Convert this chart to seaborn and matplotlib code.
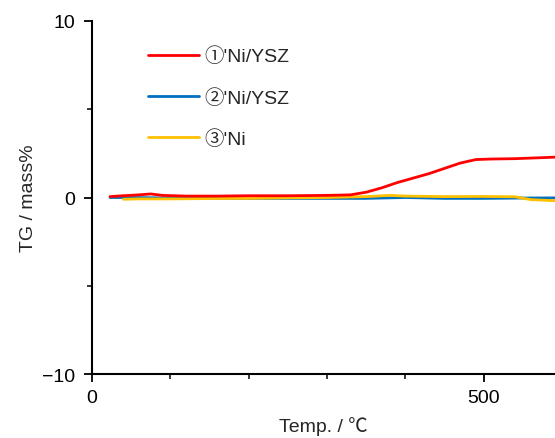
import numpy as np
import pandas as pd
import matplotlib
matplotlib.use("Agg")
import matplotlib.pyplot as plt
import seaborn as sns
from matplotlib.ticker import MultipleLocator

# TG curves (temperature in °C, mass change in mass%)
temp_red = [23, 40, 60, 75, 90, 120, 160, 200, 250, 300, 330, 350, 370, 390, 410, 430, 450, 470, 490, 510, 540, 570, 600]
tg_red = [0.05, 0.1, 0.15, 0.2, 0.12, 0.08, 0.08, 0.1, 0.1, 0.12, 0.15, 0.3, 0.55, 0.85, 1.1, 1.35, 1.65, 1.95, 2.15, 2.18, 2.2, 2.25, 2.3]

temp_blue = [23, 50, 100, 150, 200, 250, 300, 350, 400, 450, 500, 550, 600]
tg_blue = [0.0, 0.0, -0.03, -0.05, -0.05, -0.05, -0.05, -0.05, 0.0, -0.05, -0.05, -0.03, -0.02]

temp_yellow = [40, 60, 100, 150, 200, 250, 300, 350, 380, 400, 450, 500, 540, 560, 600]
tg_yellow = [-0.1, -0.08, -0.08, -0.06, -0.05, -0.02, 0.0, 0.05, 0.12, 0.08, 0.05, 0.06, 0.04, -0.12, -0.2]

labels = ["①'Ni/YSZ", "②'Ni/YSZ", "③'Ni"]
colors = ["#ff0000", "#0070c0", "#ffc000"]

frames = []
for lab, t, v in zip(labels, [temp_red, temp_blue, temp_yellow], [tg_red, tg_blue, tg_yellow]):
    frames.append(pd.DataFrame({"temp": t, "tg": v, "sample": lab}))
df = pd.concat(frames, ignore_index=True)

sns.set_style("ticks")
plt.rcParams["font.family"] = ["Liberation Sans", "Noto Sans CJK JP", "DejaVu Sans"]

fig = plt.figure(figsize=(5.55, 4.39), dpi=100)
ax = fig.add_axes([92 / 555, 1 - 375 / 439, 1 - 92 / 555, (375 - 22) / 439])

# blue at the bottom, then yellow, red on top
for idx in [1, 2, 0]:
    lab, col = labels[idx], colors[idx]
    sub = df[df["sample"] == lab]
    sns.lineplot(data=sub, x="temp", y="tg", color=col, lw=2.0, ax=ax, legend=False)

ax.set_xlim(0, 591)
ax.set_ylim(-10, 10)
ax.xaxis.set_major_locator(MultipleLocator(500))
ax.xaxis.set_minor_locator(MultipleLocator(100))
ax.yaxis.set_major_locator(MultipleLocator(10))
ax.yaxis.set_minor_locator(MultipleLocator(5))
ax.tick_params(axis="both", which="major", direction="out", length=6, width=1.3, labelsize=14, colors="black")
ax.tick_params(axis="both", which="minor", direction="out", length=3.5, width=1.3)
ax.tick_params(axis="x", which="major", pad=5)
ax.tick_params(axis="y", which="major", pad=6)
for s in ["top", "right"]:
    ax.spines[s].set_visible(False)
for s in ["left", "bottom"]:
    ax.spines[s].set_linewidth(1.5)
    ax.spines[s].set_color("black")

ax.set_xlabel("Temp. / ℃", fontsize=14, labelpad=7)
ax.set_ylabel("TG / mass%", fontsize=14, labelpad=4)

handles = [plt.Line2D([0], [0], color=c, lw=2.0) for c in colors]
ax.legend(handles, labels, loc="upper left", bbox_to_anchor=(0.084, 0.977), frameon=False,
          fontsize=14, handlelength=2.6, handletextpad=0.3, labelspacing=1.16)

fig.savefig("out.png", dpi=100)
